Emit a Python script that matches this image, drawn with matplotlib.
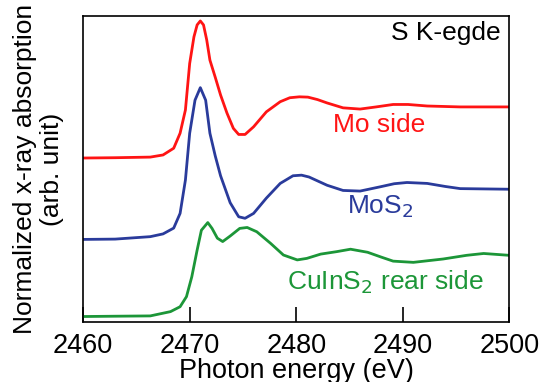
import matplotlib
matplotlib.use("Agg")
import matplotlib.pyplot as plt

plt.rcParams['font.family'] = ['Liberation Sans', 'DejaVu Sans']

# photon energy (eV) and normalized absorption (offset, arb. unit)
mo_side_e = [2460, 2463.0, 2466.3, 2467.5, 2468.5, 2469.1, 2469.6, 2470.0, 2470.4,
             2470.7, 2471.0, 2471.3, 2471.6, 2471.9, 2472.4, 2472.9, 2473.5, 2474.1,
             2474.6, 2475.2, 2476.0, 2477.2, 2478.5, 2479.4, 2480.3, 2481.1, 2482.0,
             2482.9, 2484.4, 2486.0, 2487.5, 2489.1, 2490.5, 2492.3, 2495.4, 2500]
mo_side_y = [0.536, 0.537, 0.539, 0.546, 0.568, 0.617, 0.693, 0.845, 0.932,
             0.971, 0.984, 0.971, 0.922, 0.856, 0.80, 0.742, 0.683, 0.633,
             0.613, 0.613, 0.638, 0.687, 0.72, 0.733, 0.736, 0.735, 0.727,
             0.716, 0.70, 0.696, 0.703, 0.711, 0.711, 0.706, 0.703, 0.703]

mos2_e = [2460, 2463.0, 2466.3, 2467.5, 2468.5, 2469.1, 2469.6, 2470.0, 2470.5,
          2471.0, 2471.5, 2471.9, 2472.4, 2472.9, 2473.8, 2474.6, 2475.2, 2476.0,
          2477.2, 2478.5, 2479.7, 2480.5, 2481.2, 2482.9, 2484.4, 2486.0, 2487.9,
          2489.2, 2490.4, 2492.3, 2494.0, 2495.4, 2500]
mos2_y = [0.27, 0.271, 0.279, 0.288, 0.307, 0.355, 0.464, 0.617, 0.725,
          0.766, 0.725, 0.617, 0.543, 0.478, 0.39, 0.344, 0.339, 0.355,
          0.405, 0.453, 0.478, 0.48, 0.474, 0.447, 0.43, 0.428, 0.442,
          0.452, 0.456, 0.453, 0.443, 0.436, 0.434]

cuins2_e = [2460, 2463.0, 2466.3, 2468.2, 2469.1, 2469.7, 2470.2, 2470.7, 2471.1,
            2471.7, 2472.1, 2472.6, 2473.1, 2473.8, 2474.7, 2475.4, 2476.3, 2477.6,
            2478.8, 2480.1, 2481.0, 2482.3, 2483.8, 2485.1, 2486.7, 2488.0, 2489.1,
            2491.0, 2493.8, 2496.0, 2497.6, 2500]
cuins2_y = [0.018, 0.019, 0.02, 0.034, 0.05, 0.083, 0.148, 0.235, 0.30,
            0.325, 0.306, 0.274, 0.263, 0.281, 0.306, 0.309, 0.295, 0.257,
            0.219, 0.203, 0.208, 0.222, 0.23, 0.238, 0.228, 0.212, 0.199,
            0.195, 0.206, 0.218, 0.224, 0.218]

red = '#ff1414'
blue = '#2a3b9b'
green = '#1c9638'

fig = plt.figure(figsize=(5.4, 3.82), dpi=100)
ax = fig.add_axes([0.154, 0.157, 0.789, 0.801])

ax.plot(mo_side_e, mo_side_y, color=red, lw=2)
ax.plot(mos2_e, mos2_y, color=blue, lw=2)
ax.plot(cuins2_e, cuins2_y, color=green, lw=2)

ax.text(2483.5, 0.644, 'Mo side', color=red, fontsize=19, ha='left', va='center')
ax.text(2484.8, 0.376, 'MoS$_2$', color=blue, fontsize=19, ha='left', va='center')
ax.text(2479.15, 0.131, 'CuInS$_2$ rear side', color=green, fontsize=19,
        ha='left', va='center')
ax.text(2499.15, 0.944, 'S K-egde', color='black', fontsize=19, ha='right', va='center')

ax.set_xlim(2460, 2500)
ax.set_ylim(0, 1)
ax.set_xticks([2460, 2470, 2480, 2490, 2500])
ax.set_yticks([])
ax.tick_params(axis='x', direction='in', length=11, width=1.2, labelsize=19.5, pad=8)
for s in ax.spines.values():
    s.set_linewidth(1.2)

ax.set_xlabel('Photon energy (eV)', fontsize=19.5, labelpad=-1)
ax.set_ylabel('Normalized x-ray absorption\n(arb. unit)', fontsize=19,
              linespacing=1.15)
ax.yaxis.set_label_coords(-0.045, 0.5)

fig.savefig('out.png', dpi=100)
